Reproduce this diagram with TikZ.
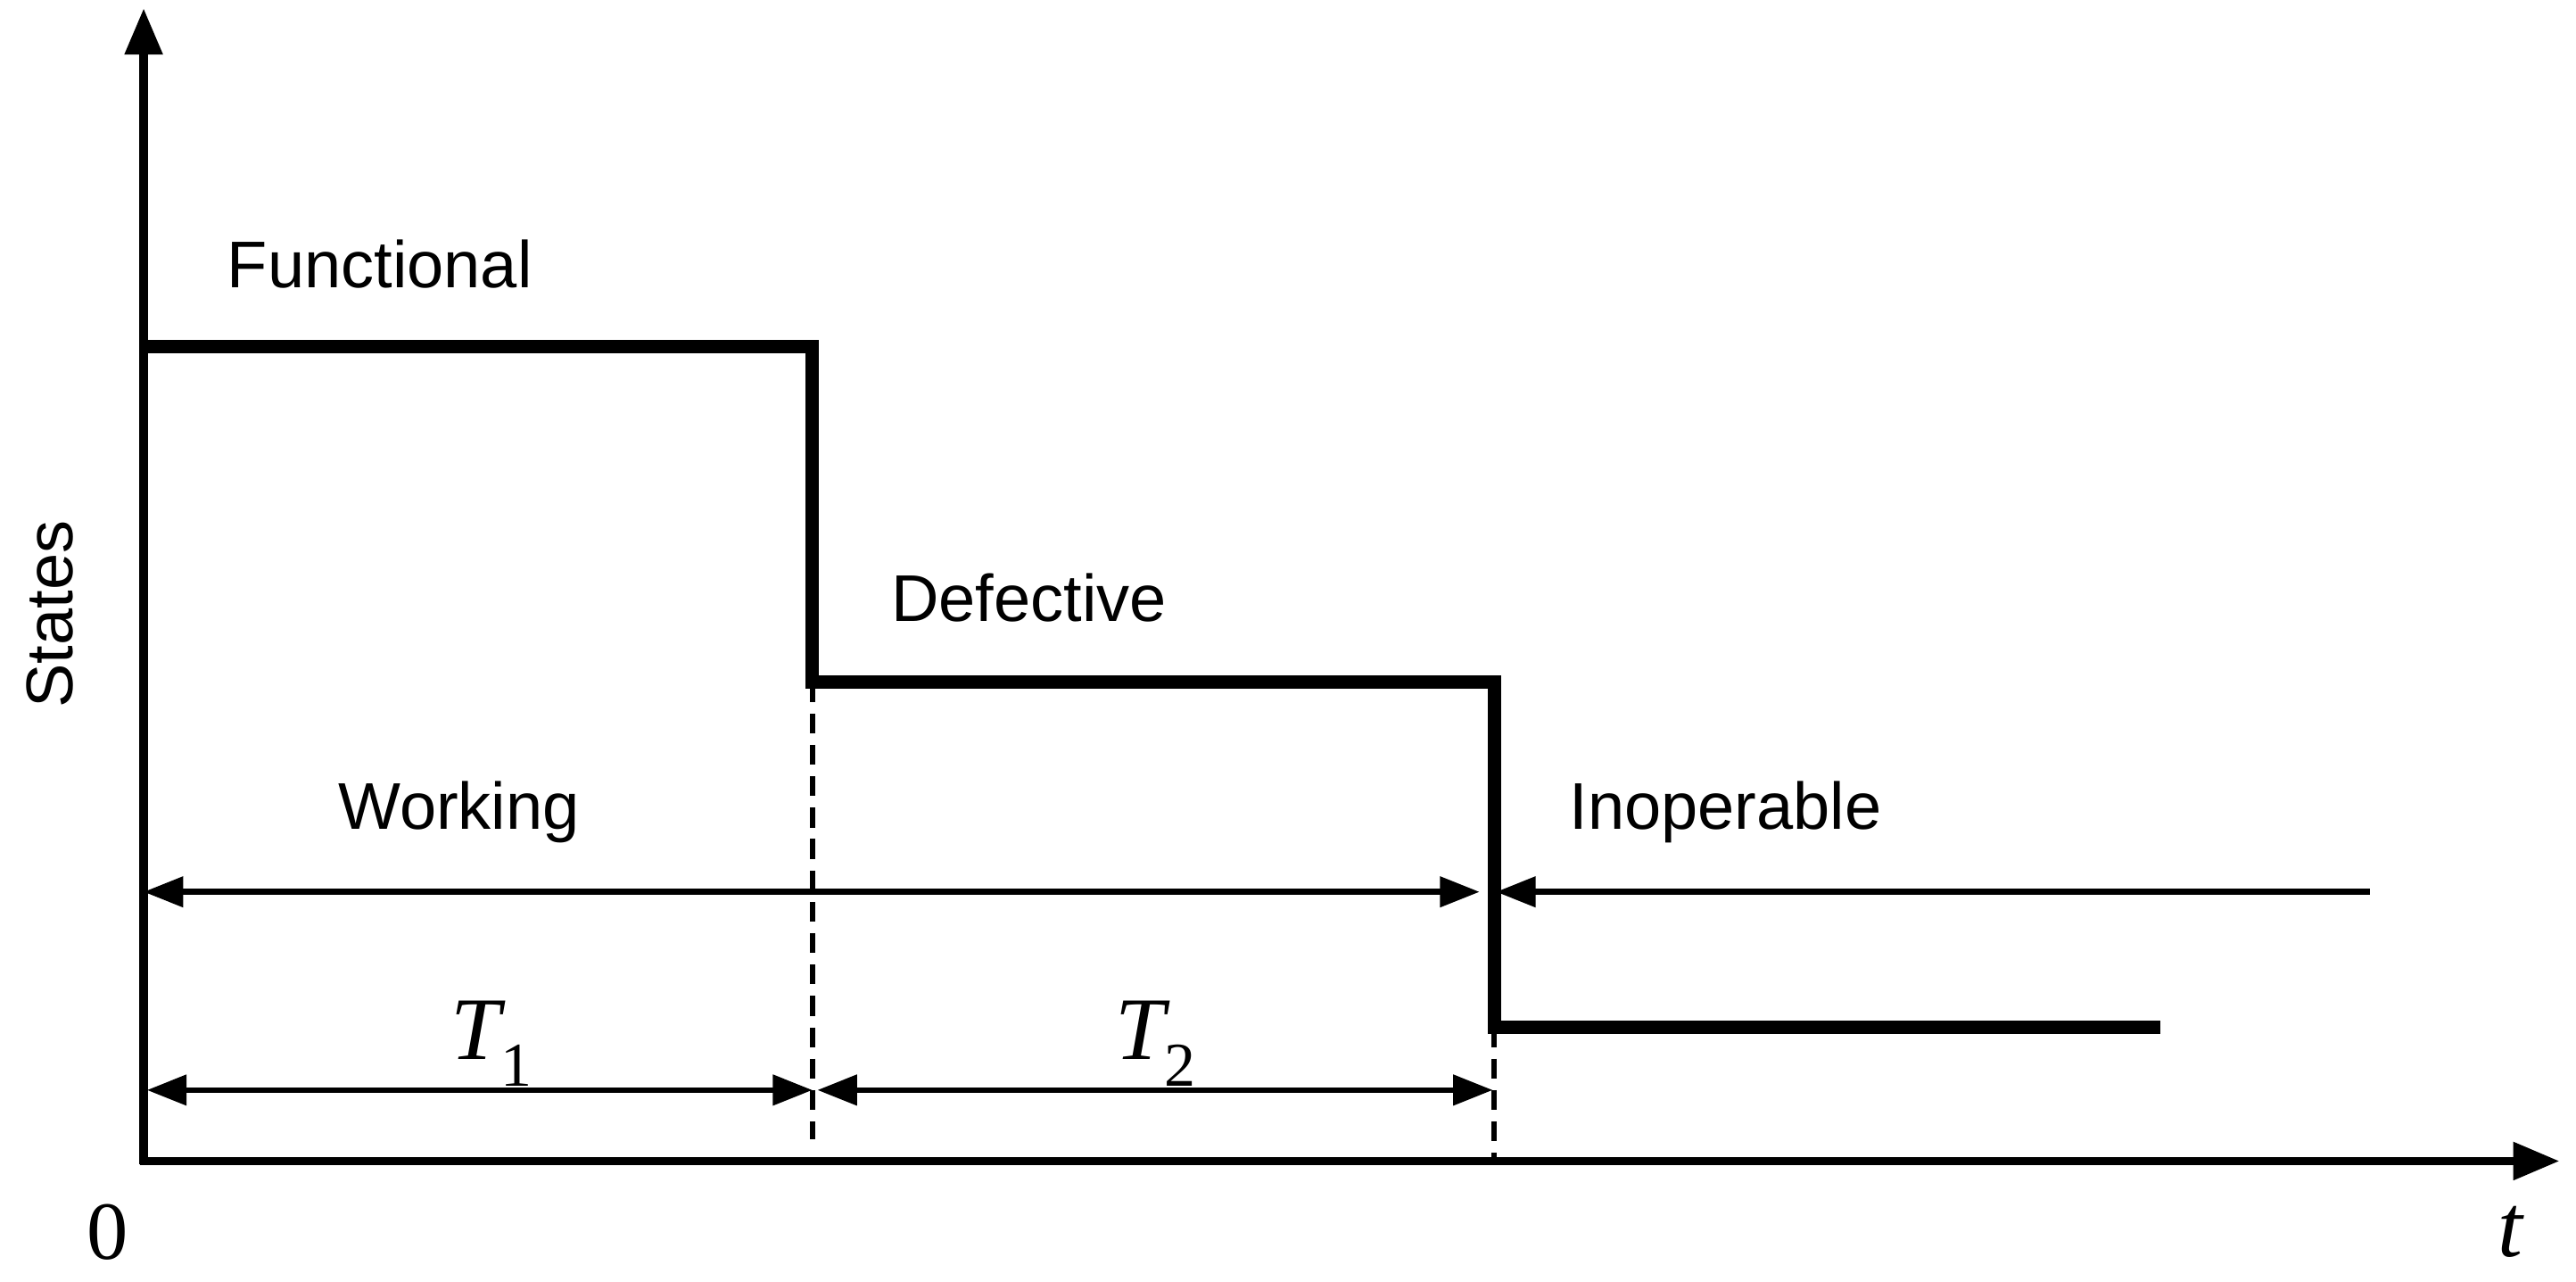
\documentclass[tikz,border=0pt]{standalone}
\usepackage{fontspec}
\setmainfont{Liberation Sans}
\newfontfamily\ser{Liberation Serif}
\usetikzlibrary{arrows.meta}
\begin{document}
\begin{tikzpicture}[x=1pt,y=-1pt,
  lbl/.style={font=\fontsize{40}{44}\selectfont},
  mth/.style={font=\ser\fontsize{54}{58}\selectfont\itshape},
  sig/.style={line width=8pt},
  ax/.style={line width=5pt,-{Triangle[length=28pt,width=22pt]}},
  dim/.style={line width=3.5pt,{Triangle[length=24pt,width=18pt]}-{Triangle[length=24pt,width=18pt]}},
  dsh/.style={line width=3.2pt,dash pattern=on 12pt off 7pt}]
\useasboundingbox (0,0) rectangle (1560,776);
\coordinate (O) at (87,703);
\coordinate (ytop) at (87,5);
\coordinate (xend) at (1550,703);
\draw[ax] (87,705) -- (ytop);
\draw[ax] (85,703) -- (xend);
\coordinate (a) at (87,210);
\coordinate (b) at (492,210);
\coordinate (c) at (492,413);
\coordinate (d) at (905,413);
\coordinate (e) at (905,622);
\coordinate (f) at (1308,622);
\draw[sig,line join=miter] (a) -- (b) -- (c) -- (d) -- (e) -- (f);
\coordinate (c2) at (492,690);
\coordinate (e2) at (905,703);
\draw[dsh] (c) -- (c2);
\draw[dsh] (e) -- (e2);
\coordinate (w1) at (87,540);
\coordinate (w2) at (896,540);
\draw[dim] (w1) -- (w2);
\coordinate (i1) at (1435,540);
\coordinate (i2) at (906,540);
\draw[line width=3.5pt,-{Triangle[length=24pt,width=18pt]}] (i1) -- (i2);
\coordinate (t1a) at (89,660);
\coordinate (t1b) at (492,660);
\coordinate (t2a) at (495,660);
\coordinate (t2b) at (904,660);
\draw[dim] (t1a) -- (t1b);
\draw[dim] (t2a) -- (t2b);
\node[lbl] (fn) at (230,160) {Functional};
\node[lbl] (df) at (623,362) {Defective};
\node[lbl] (wk) at (278,492) {Working};
\node[lbl] (io) at (1045,492) {Inoperable};
\node[lbl,rotate=90] (st) at (30,372) {States};
\node[mth] (T1) at (298,632) {T\textsubscript{\upshape 1}};
\node[mth] (T2) at (700,632) {T\textsubscript{\upshape 2}};
\node[font=\ser\fontsize{50}{54}\selectfont] (zero) at (65,746) {0};
\node[mth] (tt) at (1520,746) {t};
\end{tikzpicture}
\end{document}
